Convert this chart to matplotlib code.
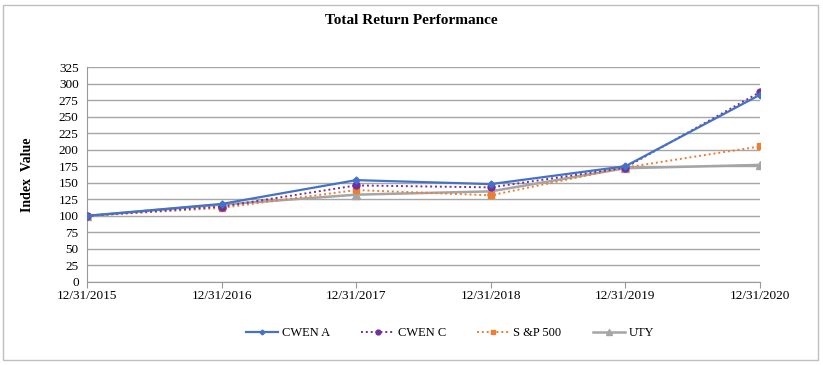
import matplotlib
matplotlib.use("Agg")
import matplotlib.pyplot as plt
from matplotlib.patches import Rectangle

# data
dates = ["12/31/2015", "12/31/2016", "12/31/2017", "12/31/2018", "12/31/2019", "12/31/2020"]
cwen_a = [100, 118, 154, 148, 175, 283]
cwen_c = [100, 114, 146, 143, 173, 287]
sp500 = [100, 112, 139, 131, 173, 205]
uty = [100, 117, 132, 137, 172, 177]
yticks = list(range(0, 326, 25))

plt.rcParams["font.family"] = ["Liberation Serif", "DejaVu Serif"]

fig = plt.figure(figsize=(8.23, 3.65), dpi=100)
ax = fig.add_axes([87 / 823, 1 - 282 / 365, (760 - 87) / 823, (282 - 67) / 365])

x = list(range(len(dates)))
ax.plot(x, cwen_a, color="#4472C4", lw=1.6, marker="D", ms=3.5, label="CWEN A", zorder=5)
ax.plot(x, cwen_c, color="#7030A0", lw=1.4, ls=(0, (1, 1.5)), marker="o", ms=5, label="CWEN C", zorder=4)
ax.plot(x, sp500, color="#ED7D31", lw=1.4, ls=(0, (1, 1.5)), marker="s", ms=5, label="S &P 500", zorder=3)
ax.plot(x, uty, color="#A5A5A5", lw=1.8, marker="^", ms=6, label="UTY", zorder=2)

ax.set_xlim(0, len(dates) - 1)
ax.set_ylim(0, 325)
ax.set_xticks(x)
ax.set_xticklabels(dates, fontsize=9.5)
ax.set_yticks(yticks)
ax.tick_params(axis="y", labelsize=9.5, length=0, pad=6)
ax.tick_params(axis="x", length=4, color="#999999", pad=2)
ax.grid(axis="y", color="#A6A6A6", lw=1.0)
ax.set_axisbelow(True)
for s in ["top", "right"]:
    ax.spines[s].set_visible(False)
ax.spines["left"].set_color("#999999")
ax.spines["bottom"].set_color("#999999")

ax.set_ylabel("Index  Value", fontsize=10, fontweight="bold", labelpad=18)
fig.text(0.5, 1 - 21 / 365, "Total Return Performance", ha="center", va="center",
         fontsize=11, fontweight="bold")

fig.legend(loc="center", bbox_to_anchor=(450 / 823, 1 - 333 / 365), ncol=4, frameon=False,
           fontsize=9, handlelength=2.6, columnspacing=2.5, handletextpad=0.3,
           markerscale=0.7)

fig.patches.append(Rectangle((3 / 823, 5 / 365), 815 / 823, 355 / 365, transform=fig.transFigure,
                             fill=False, edgecolor="#BFBFBF", lw=1.0))

fig.savefig("out.png", dpi=100)
